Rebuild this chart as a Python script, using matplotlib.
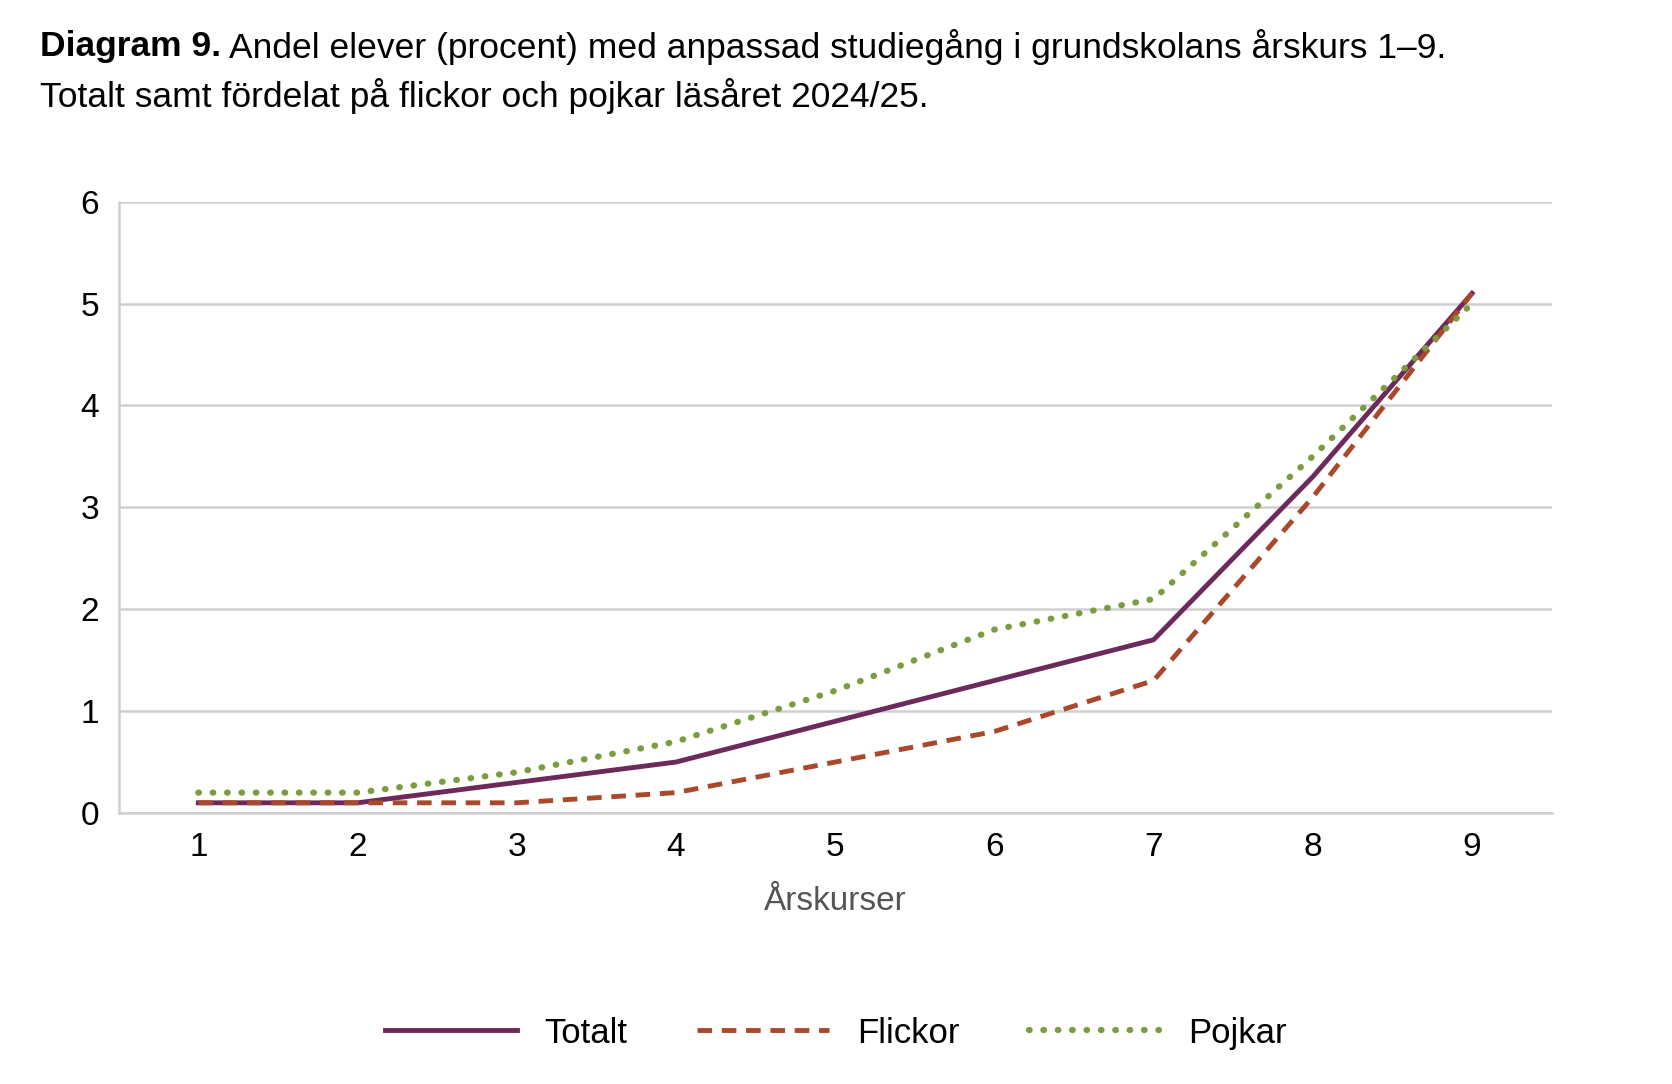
import matplotlib
matplotlib.use("Agg")
import matplotlib.pyplot as plt
from matplotlib.transforms import offset_copy

grades = [1, 2, 3, 4, 5, 6, 7, 8, 9]
totalt = [0.1, 0.1, 0.3, 0.5, 0.9, 1.3, 1.7, 3.3, 5.1]
flickor = [0.1, 0.1, 0.1, 0.2, 0.5, 0.8, 1.3, 3.1, 5.1]
pojkar = [0.2, 0.2, 0.4, 0.7, 1.2, 1.8, 2.1, 3.5, 5.0]

plt.rcParams["font.family"] = "Liberation Sans"
fig = plt.figure(figsize=(16.72, 10.84), dpi=100)
ax = fig.add_axes([0.071, 0.25, 0.857, 0.564])
ax.plot(grades, totalt, color="#6b2a5a", lw=3.5, label="Totalt")
ax.plot(grades, flickor, color="#a9482a", lw=3.5, ls=(0, (3, 2)), label="Flickor")
ax.plot(grades, pojkar, color="#7d9c42", lw=4.5, ls=(0, (0.1, 2.2)), dash_capstyle="round", label="Pojkar")
ax.set_xlim(0.5, 9.5)
ax.set_ylim(0, 6)
ax.set_xticks(grades)
ax.set_yticks(range(7))
ax.tick_params(labelsize=24, length=0, pad=14)
ax.grid(axis="y", color="#d0d0d0", lw=1.8)
ax.set_axisbelow(True)
for s in ["top", "right"]:
    ax.spines[s].set_visible(False)
for s in ["left", "bottom"]:
    ax.spines[s].set_color("#d0d0d0")
    ax.spines[s].set_linewidth(1.8)
ax.set_xlabel("Årskurser", fontsize=24, color="#555555", labelpad=16)
fig.legend(loc="center", bbox_to_anchor=(0.5, 0.047), ncol=3, frameon=False, fontsize=25,
           handlelength=3.8, columnspacing=2.0)
t1 = fig.text(0.024, 0.957, "Diagram 9.", fontsize=25.5, fontweight="bold", va="center")
fig.canvas.draw()
w = t1.get_window_extent().width
fig.text(0.024 + (w + 8) / fig.bbox.width, 0.957,
         "Andel elever (procent) med anpassad studiegång i grundskolans årskurs 1–9.",
         fontsize=25.5, va="center")
fig.text(0.024, 0.911, "Totalt samt fördelat på flickor och pojkar läsåret 2024/25.", fontsize=25.5, va="center")
fig.savefig("out.png")
